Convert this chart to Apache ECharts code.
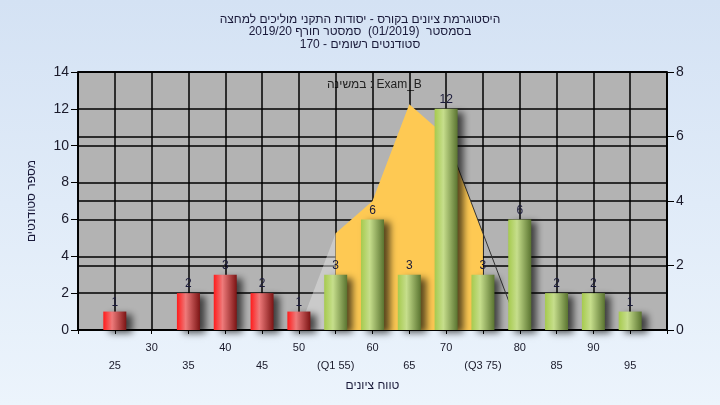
<!DOCTYPE html>
<html>
<head>
<meta charset="utf-8">
<script src="https://cdn.jsdelivr.net/npm/echarts@6/dist/echarts.min.js"></script>
<style>
html,body{margin:0;padding:0;}
#c{width:720px;height:405px;background:linear-gradient(#d4e2f4,#ecf4fc);}
</style>
</head>
<body>
<div id="c"></div>
<script>
// ---- data ----
const titleLines = [
  'היסטוגרמת ציונים בקורס - יסודות התקני מוליכים למחצה',
  'בסמסטר  (01/2019)  סמסטר חורף 2019/20',
  'סטודנטים רשומים - 170'
];
const examLabel = 'במשינה : Exam_B';
const yAxisName = 'מספר סטודנטים';
const xAxisName = 'טווח ציונים';
const binCenters = [25, 30, 35, 40, 45, 50, 55, 60, 65, 70, 75, 80, 85, 90, 95];
const counts     = [1, 0, 2, 3, 2, 1, 3, 6, 3, 12, 3, 6, 2, 2, 1];
const passMark = 55;
const xTickValues = [25, 30, 35, 40, 45, 50, 55, 60, 65, 70, 75, 80, 85, 90, 95];
const xTickLabels = ['25', '30', '35', '40', '45', '50', '(Q1 55)', '60', '65', '70', '(Q3 75)', '80', '85', '90', '95'];
const curveX = [50, 55, 60, 65, 70, 75, 80];
const curveY = [0, 3, 4, 7, 6, 3, 0];
const q1 = 55, q3 = 75;

// ---- build ----
const FONT = '"Liberation Sans","DejaVu Sans",Arial,sans-serif';
const labelMap = {};
xTickValues.forEach((v, i) => labelMap[v] = xTickLabels[i]);

const grad = (a, b, c) => new echarts.graphic.LinearGradient(0, 0, 1, 0, [
  {offset: 0, color: a}, {offset: 0.38, color: b}, {offset: 1, color: c}]);
const redG = grad('#ff1c1c', '#ee7a7a', '#7c1414');
const greenG = grad('#a6ca4e', '#c6de8c', '#5a7430');

const barData = binCenters.map((x, i) => ({
  value: [x, counts[i]],
  itemStyle: {color: x < passMark ? redG : greenG},
  label: {show: counts[i] > 0}
}));
const curve = curveX.map((x, i) => [x, curveY[i]]);
const yellowPart = curve.filter(p => p[0] >= q1 && p[0] <= q3);
const leftPart = curve.filter(p => p[0] <= q1);
const rightLine = curve.filter(p => p[0] >= 70);

const chart = echarts.init(document.getElementById('c'), null, {renderer: 'canvas'});
chart.setOption({
  animation: false,
  textStyle: {fontFamily: FONT},
  title: {
    text: titleLines.join('\n'),
    left: 'center', top: 8,
    textStyle: {fontSize: 12, fontWeight: 'normal', color: '#1a1a3a', lineHeight: 12.5, fontFamily: FONT}
  },
  graphic: [{
    type: 'text', left: 327, top: 79,
    style: {text: examLabel, fontSize: 12, fill: '#222', font: '12px ' + FONT}
  }],
  grid: {left: 78, right: 53, top: 72, bottom: 75, show: true, backgroundColor: '#b3b3b3', borderColor: '#000', borderWidth: 1.5},
  xAxis: {
    type: 'value', min: 20, max: 100, interval: 5,
    name: xAxisName, nameLocation: 'middle', nameGap: 40,
    nameTextStyle: {fontSize: 12, color: '#1a1a3a'},
    axisLine: {lineStyle: {color: '#000', width: 1.5}},
    axisTick: {show: true, length: 4, lineStyle: {color: '#000'}},
    splitLine: {show: true, lineStyle: {color: '#000', width: 1.5}},
    axisLabel: {
      fontSize: 11, color: '#1a1a2a', margin: 9, lineHeight: 18,
      formatter: v => {
        const t = labelMap[v];
        if (t === undefined) return '';
        return (v % 10 === 0) ? t : '\n' + t;
      }
    }
  },
  yAxis: [{
    type: 'value', min: 0, max: 14, interval: 2,
    name: yAxisName, nameLocation: 'middle', nameGap: 40,
    nameTextStyle: {fontSize: 12, color: '#1a1a3a'},
    axisLine: {show: true, lineStyle: {color: '#000', width: 1.5}},
    axisTick: {show: true, length: 7, lineStyle: {color: '#000'}},
    splitLine: {show: true, lineStyle: {color: '#000', width: 1.5}},
    axisLabel: {fontSize: 14, color: '#1a1a2a', margin: 9}
  }, {
    type: 'value', min: 0, max: 8, interval: 2, position: 'right',
    axisLine: {show: true, lineStyle: {color: '#000', width: 1.5}},
    axisTick: {show: true, length: 7, lineStyle: {color: '#000'}},
    splitLine: {show: true, lineStyle: {color: '#000', width: 1.5}},
    axisLabel: {fontSize: 14, color: '#1a1a2a', margin: 9}
  }],
  series: [{
    type: 'line', yAxisIndex: 1, data: leftPart, symbol: 'none', z: 1,
    lineStyle: {width: 0}, areaStyle: {color: 'rgba(225,225,225,0.5)', opacity: 1}
  }, {
    type: 'line', yAxisIndex: 1, data: yellowPart, symbol: 'none', z: 1,
    lineStyle: {width: 0}, areaStyle: {color: '#fec953', opacity: 1}
  }, {
    type: 'line', yAxisIndex: 1, data: rightLine, symbol: 'none', z: 1,
    lineStyle: {width: 1, color: '#333'}
  }, {
    type: 'bar', data: barData, barWidth: 23, z: 3,
    itemStyle: {shadowBlur: 7, shadowOffsetX: 6, shadowOffsetY: 3, shadowColor: 'rgba(0,0,0,0.65)'},
    label: {position: 'top', fontSize: 12, color: '#1a1a3a', distance: 3}
  }]
});
</script>
</body>
</html>
